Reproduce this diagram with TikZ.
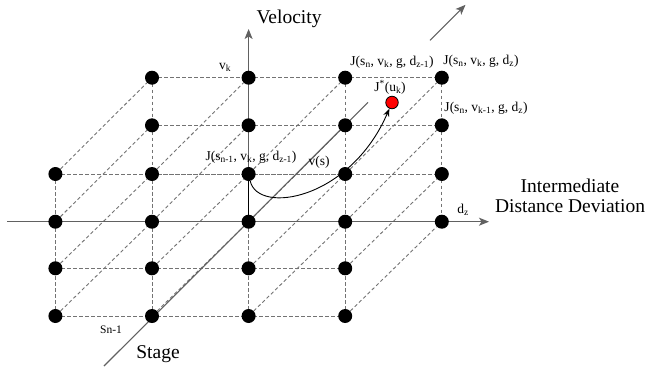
\documentclass[tikz,border=0pt]{standalone}
\usepackage{fontspec}
\setmainfont{Liberation Serif}
\usetikzlibrary{arrows.meta,backgrounds}

\tikzset{
  dot/.style={circle, fill=black, inner sep=0pt, minimum size=14pt},
  reddot/.style={circle, fill=red, draw=black, line width=0.8pt, inner sep=0pt, minimum size=12.5pt},
  gridline/.style={draw=black!55, dash pattern=on 3.5pt off 2.5pt, line width=0.9pt},
  axis/.style={draw=black!62, line width=1.1pt, -{Stealth[length=10pt,width=8pt,inset=2.5pt]}},
  bigtext/.style={font=\fontsize{19.5}{20}\selectfont, inner sep=0pt},
  smalltext/.style={font=\fontsize{13.5}{15}\selectfont, inner sep=0pt},
}

\begin{document}
\begin{tikzpicture}[x=1pt, y=-1pt]
\useasboundingbox (0,0) rectangle (650,370);

% lattice points, columns a..e, rows 0..5
\node[dot] (b0) at (152,77.7) {};
\node[dot] (c0) at (248.6,77.7) {};
\node[dot] (d0) at (345.2,77.7) {};
\node[dot] (e0) at (441.8,77.7) {};
\node[dot] (b1) at (152,125.3) {};
\node[dot] (c1) at (248.6,125.3) {};
\node[dot] (d1) at (345.2,125.3) {};
\node[dot] (e1) at (441.8,125.3) {};
\node[dot] (a2) at (55.4,174) {};
\node[dot] (b2) at (152,174) {};
\node[dot] (c2) at (248.6,174) {};
\node[dot] (d2) at (345.2,174) {};
\node[dot] (e2) at (441.8,174) {};
\node[dot] (a3) at (55.4,221.7) {};
\node[dot] (b3) at (152,221.7) {};
\node[dot] (c3) at (248.6,221.7) {};
\node[dot] (d3) at (345.2,221.7) {};
\node[dot] (e3) at (441.8,221.7) {};
\node[dot] (a4) at (55.4,268.3) {};
\node[dot] (b4) at (152,268.3) {};
\node[dot] (c4) at (248.6,268.3) {};
\node[dot] (d4) at (345.2,268.3) {};
\node[dot] (a5) at (55.4,316) {};
\node[dot] (b5) at (152,316) {};
\node[dot] (c5) at (248.6,316) {};
\node[dot] (d5) at (345.2,316) {};

\node[reddot] (ustar) at (392,102.5) {};

% axis ends
\coordinate (xl) at (7,221.7);
\coordinate (xr) at (489,221.7);
\coordinate (vtop) at (248.6,29);
\coordinate (sl) at (104,366);
\coordinate (sh) at (368,102.3);
\coordinate (sa) at (430,40.3);
\coordinate (sb) at (465.5,4.8);

\begin{scope}[on background layer]
% front layer
\draw[gridline] (a2.center) -- (d2.center);
\draw[gridline] (a3.center) -- (d3.center);
\draw[gridline] (a4.center) -- (d4.center);
\draw[gridline] (a5.center) -- (d5.center);
\draw[gridline] (a2.center) -- (a5.center);
\draw[gridline] (b2.center) -- (b5.center);
\draw[gridline] (c2.center) -- (c5.center);
\draw[gridline] (d2.center) -- (d5.center);
% back layer
\draw[gridline] (b0.center) -- (e0.center);
\draw[gridline] (b1.center) -- (e1.center);
\draw[gridline] (b2.center) -- (e2.center);
\draw[gridline] (b3.center) -- (e3.center);
\draw[gridline] (b0.center) -- (b3.center);
\draw[gridline] (c0.center) -- (c3.center);
\draw[gridline] (d0.center) -- (d3.center);
\draw[gridline] (e0.center) -- (e3.center);
% depth lines
\draw[gridline] (a2) -- (b0);
\draw[gridline] (b2) -- (c0);
\draw[gridline] (c2) -- (d0);
\draw[gridline] (d2) -- (e0);
\draw[gridline] (a3) -- (b1);
\draw[gridline] (b3) -- (c1);
\draw[gridline] (c3) -- (d1);
\draw[gridline] (d3) -- (e1);
\draw[gridline] (a4) -- (b2);
\draw[gridline] (b4) -- (c2);
\draw[gridline] (c4) -- (d2);
\draw[gridline] (d4) -- (e2);
\draw[gridline] (a5) -- (b3);
\draw[gridline] (b5) -- (c3);
\draw[gridline] (c5) -- (d3);
\draw[gridline] (d5) -- (e3);
% axes
\draw[axis] (xl) -- (xr);
\draw[axis] (c3.center) -- (vtop);
\draw[draw=black!62, line width=1.1pt] (sl) -- (sh);
\draw[axis] (sa) -- (sb);
\draw[black, line width=1.3pt] (c2.center) -- (c3.center);
\end{scope}

\draw[black, line width=0.9pt, -{Stealth[length=8pt,width=6pt]}] (c2) .. controls (258,215) and (350,200) .. (ustar);

% labels
\node[bigtext] (vel) at (289,19) {Velocity};
\node[bigtext, align=center] (idd) at (570,196) {Intermediate\\Distance Deviation};
\node[bigtext] (stage) at (158,354) {Stage};
\node[font=\fontsize{11.5}{13}\selectfont, inner sep=0pt] (sn) at (111,330) {Sn-1};
\node[smalltext] (vk) at (225,67) {v\textsubscript{k}};
\node[smalltext] (dz) at (463,210) {d\textsubscript{z}};
\node[smalltext] (vs) at (319,162) {v(s)};
\node[smalltext] (j1) at (251,157) {J(s\textsubscript{n-1}, v\textsubscript{k}, g, d\textsubscript{z-1})};
\node[smalltext] (j2) at (392,62) {J(s\textsubscript{n}, v\textsubscript{k}, g, d\textsubscript{z-1})};
\node[smalltext] (j3) at (481,61) {J(s\textsubscript{n}, v\textsubscript{k}, g, d\textsubscript{z})};
\node[smalltext] (jstar) at (390,87) {J\textsuperscript{*}(u\textsubscript{k})};
\node[smalltext] (j4) at (486,108) {J(s\textsubscript{n}, v\textsubscript{k-1}, g, d\textsubscript{z})};
\end{tikzpicture}
\end{document}
